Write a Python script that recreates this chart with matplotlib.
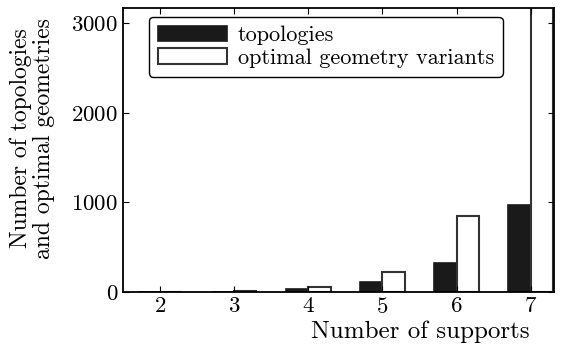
import numpy as np
import matplotlib
matplotlib.use('Agg')
import matplotlib.pyplot as plt

plt.rcParams['font.family'] = 'serif'
plt.rcParams['font.serif'] = ['cmr10']
plt.rcParams['mathtext.fontset'] = 'cm'
plt.rcParams['axes.formatter.use_mathtext'] = True
plt.rcParams['font.size'] = 16.5

# data
supports = [2, 3, 4, 5, 6, 7]
topologies = [1, 5, 33, 108, 320, 975]
geometry_variants = [1, 8, 56, 220, 850, 3500]

width = 0.3
x = np.array(supports)

fig = plt.figure(figsize=(5.62, 3.46), dpi=100)
ax = fig.add_axes((0.219, 0.156, 0.766, 0.822))

ax.bar(x - width, topologies, width, align='edge', color='#1a1a1a',
       edgecolor='#1a1a1a', linewidth=1.2, label='topologies')
ax.bar(x, geometry_variants, width, align='edge', color='white',
       edgecolor='#333333', linewidth=1.5, label='optimal geometry variants')

ax.set_xlim(1.5, 7.31)
ax.set_ylim(0, 3175)
ax.set_xticks(supports)
ax.set_yticks([0, 1000, 2000, 3000])
ax.tick_params(direction='in', top=True, right=True, length=4)
for s in ax.spines.values():
    s.set_linewidth(1.3)

ax.set_xlabel('Number of supports', fontsize=18)
ax.xaxis.label.set_horizontalalignment('right')
ax.xaxis.set_label_coords(0.944, -0.1)
ax.set_ylabel('Number of topologies\nand optimal geometries', fontsize=17,
              linespacing=1.1)
ax.yaxis.set_label_coords(-0.157, 0.54)

leg = ax.legend(loc='upper left', bbox_to_anchor=(0.06, 0.968), fontsize=16,
                frameon=True, fancybox=True, handlelength=3.1,
                handletextpad=0.5, borderpad=0.4, labelspacing=0.15,
                borderaxespad=0)
leg.get_frame().set_edgecolor('black')
leg.get_frame().set_linewidth(1.0)
leg.get_frame().set_alpha(1)

plt.savefig('out.png', dpi=100)
plt.close()
